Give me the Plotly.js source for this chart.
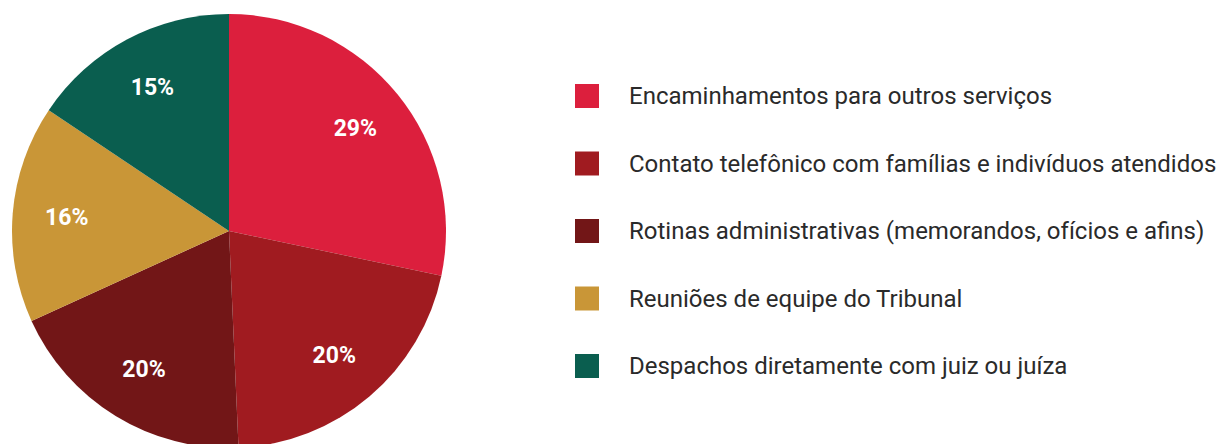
<!DOCTYPE html>
<html><head><meta charset="utf-8">
<script src="https://cdn.plot.ly/plotly-3.0.1.min.js"></script>
<style>html,body{margin:0;padding:0;overflow:hidden;background:#fff;width:1217px;height:444px}</style>
</head><body><div id="chart"></div>
<script>
const categories = [
  "Encaminhamentos para outros serviços",
  "Contato telefônico com famílias e indivíduos atendidos",
  "Rotinas administrativas (memorandos, ofícios e afins)",
  "Reuniões de equipe do Tribunal",
  "Despachos diretamente com juiz ou juíza"
];
const values = [28.3, 21.0, 18.9, 16.2, 15.6];
const pctLabels = ["29%", "20%", "20%", "16%", "15%"];
const colors = ["#DC1F3D", "#A01B20", "#721617", "#C99637", "#0A5E4F"];

const W = 1217, H = 462, MT = 14, PH = 434;
const shapes = [], annotations = [];
const rowFirst = 96, rowStep = 67.5;
categories.forEach((c, i) => {
  const cy = rowFirst + i * rowStep;
  const py = v => 1 - (v - MT) / PH;
  shapes.push({type: 'rect', xref: 'paper', yref: 'paper',
    x0: 575 / W, x1: 599 / W, y0: py(cy - 12), y1: py(cy + 12),
    fillcolor: colors[i], line: {width: 0}});
  annotations.push({xref: 'paper', yref: 'paper', x: 627 / W, y: py(cy),
    xanchor: 'left', yanchor: 'middle', showarrow: false, text: c,
    font: {family: 'Roboto', size: 24, color: '#2a2a2a'}});
});

const common = {type: 'pie', labels: categories, values: values, sort: false,
  direction: 'clockwise', rotation: 0, domain: {x: [12 / W, 446 / W], y: [0, 1]},
  hoverinfo: 'skip'};

Plotly.newPlot('chart', [
  Object.assign({}, common, {
    marker: {colors: colors, line: {width: 0}}, textinfo: 'none'
  }),
  Object.assign({}, common, {
    hole: 0.5,
    marker: {colors: colors.map(() => 'rgba(0,0,0,0)'), line: {width: 0}},
    text: pctLabels, texttemplate: '%{text}', textposition: 'inside',
    insidetextorientation: 'horizontal',
    textfont: {family: 'Roboto', size: 23, color: '#ffffff', weight: 'bold'}
  })
], {
  width: W, height: H, margin: {l: 0, r: 0, t: MT, b: H - MT - PH},
  showlegend: false, paper_bgcolor: '#ffffff',
  shapes: shapes, annotations: annotations
}, {displayModeBar: false, staticPlot: true});
</script></body></html>
